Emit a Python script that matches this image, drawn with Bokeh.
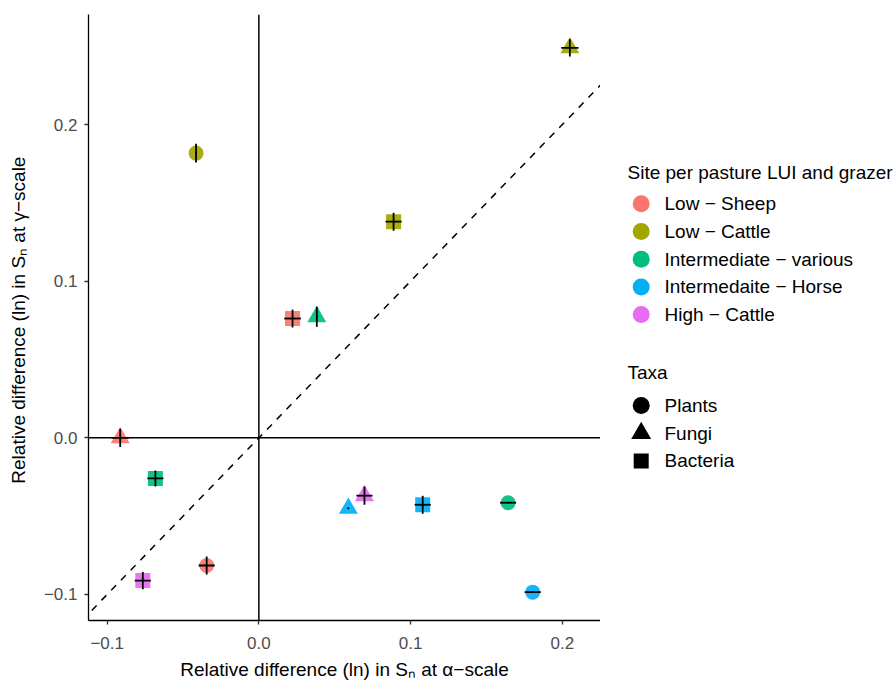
import numpy as np
from bokeh.plotting import figure
from bokeh.layouts import row
from bokeh.core.properties import value
from bokeh.models import (ColumnDataSource, Range1d, FixedTicker, CustomJSTickFormatter,
                          Span, Slope)
from bokeh.transform import factor_cmap, factor_mark
from bokeh.embed import file_html
from bokeh.resources import INLINE

# ---------------- data ----------------
sites = ["Low \u2212 Sheep", "Low \u2212 Cattle", "Intermediate \u2212 various",
         "Intermedaite \u2212 Horse", "High \u2212 Cattle"]
site_colors = ["#F8766D", "#A3A500", "#00BF7D", "#00B0F6", "#E76BF3"]
taxa_levels = ["Plants", "Fungi", "Bacteria"]
taxa_markers = ["circle", "triangle", "square"]
taxa_sizes = [15, 19, 15]
site_legend_title = "Site per pasture LUI and grazer"
taxa_legend_title = "Taxa"

point_site = [sites[0], sites[0], sites[0],
              sites[1], sites[1], sites[1],
              sites[2], sites[2], sites[2],
              sites[3], sites[3], sites[3],
              sites[4], sites[4]]
point_taxa = ["Plants", "Fungi", "Bacteria",
              "Plants", "Fungi", "Bacteria",
              "Plants", "Fungi", "Bacteria",
              "Plants", "Fungi", "Bacteria",
              "Fungi", "Bacteria"]
alpha_diff = [-0.0344, -0.0914, 0.0222,
              -0.0414, 0.2050, 0.0888,
              0.1643, 0.0382, -0.0682,
              0.1805, 0.0590, 0.1080,
              0.0696, -0.0765]
gamma_diff = [-0.0815, 0.0000, 0.0762,
              0.1818, 0.2490, 0.1380,
              -0.0414, 0.0773, -0.0259,
              -0.0985, -0.0450, -0.0427,
              -0.0369, -0.0911]
alpha_se = [0.0053, 0.0057, 0.0055,
            0.0006, 0.0057, 0.0053,
            0.0053, 0.0005, 0.0053,
            0.0053, 0.0004, 0.0053,
            0.0053, 0.0053]
gamma_se = [0.0058, 0.0058, 0.0057,
            0.0060, 0.0055, 0.0057,
            0.0005, 0.0064, 0.0051,
            0.0005, 0.0004, 0.0057,
            0.0058, 0.0055]

x_ticks = [-0.1, 0.0, 0.1, 0.2]
y_ticks = [-0.1, 0.0, 0.1, 0.2]

# ---------------- main panel ----------------
FONT = "Liberation Sans"
TOP, BOTTOM_BORDER, H = 14, 62, 682
p = figure(width=600, height=H,
           x_range=Range1d(-0.1123, 0.2252), y_range=Range1d(-0.1166, 0.2703),
           output_backend="svg", toolbar_location=None,
           min_border_left=88, min_border_right=0, min_border_top=TOP,
           min_border_bottom=BOTTOM_BORDER,
           x_axis_label="Relative difference (ln) in S\u2099 at \u03b1\u2212scale",
           y_axis_label="Relative difference (ln) in  S\u2099 at \u03b3\u2212scale")
p.grid.visible = False
p.outline_line_color = None
p.background_fill_color = "white"

fmt = CustomJSTickFormatter(code="return tick.toFixed(1).replace('-', '\u2212');")
p.xaxis.ticker = FixedTicker(ticks=x_ticks)
p.yaxis.ticker = FixedTicker(ticks=y_ticks)
for ax in (p.xaxis[0], p.yaxis[0]):
    ax.formatter = fmt
    ax.axis_line_color = "black"
    ax.axis_line_width = 1.3
    ax.major_tick_line_color = "#333333"
    ax.major_tick_line_width = 1.3
    ax.major_tick_out = 4
    ax.major_tick_in = 0
    ax.minor_tick_line_color = None
    ax.major_label_text_font = FONT
    ax.major_label_text_font_size = "17px"
    ax.major_label_text_color = "#4D4D4D"
    ax.axis_label_text_font = FONT
    ax.axis_label_text_font_size = "19px"
    ax.axis_label_text_font_style = "normal"
    ax.axis_label_text_color = "black"
p.xaxis.major_label_standoff = 12
p.xaxis.axis_label_standoff = 7
p.yaxis.major_label_standoff = 7
p.yaxis.axis_label_standoff = 12

# reference lines
p.add_layout(Span(location=0, dimension="width", line_color="black", line_width=1.5, level="underlay"))
p.add_layout(Span(location=0, dimension="height", line_color="black", line_width=1.5, level="underlay"))
p.add_layout(Slope(gradient=1, y_intercept=0, line_color="black", line_width=1.5,
                   line_dash="7 7", level="underlay"))

# points
ax_ = np.array(alpha_diff)
gy_ = np.array(gamma_diff)
axe = np.array(alpha_se)
gye = np.array(gamma_se)
size_map = dict(zip(taxa_levels, taxa_sizes))
src = ColumnDataSource(dict(x=ax_, y=gy_, site=point_site, taxa=point_taxa,
                            size=[size_map[t] for t in point_taxa]))
p.scatter("x", "y", source=src, size="size",
          marker=factor_mark("taxa", taxa_markers, taxa_levels),
          fill_color=factor_cmap("site", site_colors, sites),
          line_color=None, fill_alpha=0.92)

# error bars
p.segment(x0=ax_ - axe, x1=ax_ + axe, y0=gy_, y1=gy_, line_color="black", line_width=1.8)
p.segment(x0=ax_, x1=ax_, y0=gy_ - gye, y1=gy_ + gye, line_color="black", line_width=1.8)

# ---------------- legend panel (pixel-space layout, frame aligned with main frame) ----------------
lf = figure(width=293, height=H, x_range=Range1d(600, 893),
            y_range=Range1d(H - BOTTOM_BORDER, TOP),
            x_axis_type=None, y_axis_type=None, output_backend="svg",
            toolbar_location=None, min_border=0,
            min_border_top=TOP, min_border_bottom=BOTTOM_BORDER)
lf.grid.visible = False
lf.outline_line_color = None

TITLE_X, KEY_X, LABEL_X = 627, 640.7, 664
STEP = 27.7
txt = dict(text_font=value(FONT), text_font_size=value("19px"), text_color="black",
           text_baseline="middle", text_align="left")

# legend 1: site colours
s_title_y = 171.7
s_y = [203.3 + i * STEP for i in range(len(sites))]
lf.text(x=[TITLE_X], y=[s_title_y], text=[site_legend_title], **txt)
lf.scatter(x=[KEY_X] * len(sites), y=s_y, marker="circle", size=17,
           fill_color=site_colors, line_color=None)
lf.text(x=[LABEL_X] * len(sites), y=s_y, text=sites, **txt)

# legend 2: taxa shapes
t_title_y = 371.7
t_y = [405 + i * STEP for i in range(len(taxa_levels))]
lf.text(x=[TITLE_X], y=[t_title_y], text=[taxa_legend_title], **txt)
lf.scatter(x=[KEY_X] * len(taxa_levels), y=t_y, marker=taxa_markers,
           size=[17, 20, 15], fill_color="black", line_color=None)
lf.text(x=[LABEL_X] * len(taxa_levels), y=t_y, text=taxa_levels, **txt)

layout = row(p, lf, spacing=0)
open("out.html", "w").write(file_html(layout, INLINE))
